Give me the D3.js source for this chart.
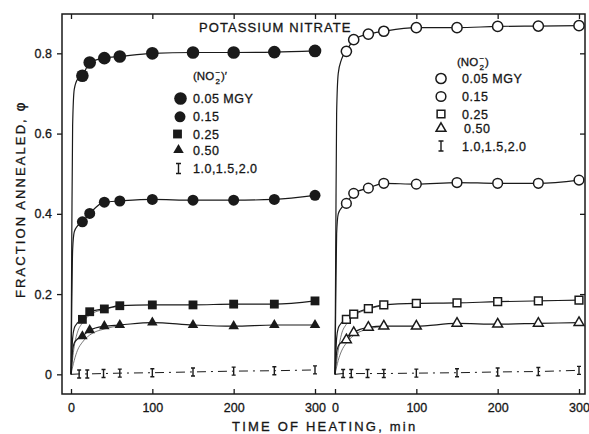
<!DOCTYPE html>
<html>
<head>
<meta charset="utf-8">
<script src="https://cdn.jsdelivr.net/npm/d3@7"></script>
<style>
  body { margin: 0; background: #fff; }
  svg { display: block; }
  text { font-family: "Liberation Sans", Arial, sans-serif; fill: #161616; stroke: #161616; stroke-width: 0.3; }
</style>
</head>
<body>
<svg id="chart" width="589" height="434"></svg>
<script>
// heating times (min) of the plotted points
const times = [14, 23, 41, 60, 100, 150, 200, 250, 300];
const timesI = [10, 20, 40, 60, 100, 150, 200, 250, 300];
// early part of the drawn curves, before the first point
const riseT = [0, 1, 2, 4, 8];
const gradT = [0, 4, 8, 14, 23, 41, 60];

const legendLabels = ["0.05 MGY", "0.15", "0.25", "0.50", "1.0,1.5,2.0"];
const xTicks = [0, 100, 200, 300];
const yTicks = [0, 0.2, 0.4, 0.6, 0.8];

// left panel, filled symbols
const left05 = [0.744, 0.777, 0.788, 0.792, 0.800, 0.802, 0.802, 0.803, 0.806];
const left15 = [0.380, 0.401, 0.429, 0.432, 0.436, 0.434, 0.434, 0.436, 0.446];
const left25 = [0.137, 0.156, 0.163, 0.171, 0.173, 0.173, 0.175, 0.175, 0.183];
const left50 = [0.095, 0.110, 0.120, 0.123, 0.129, 0.123, 0.120, 0.123, 0.123];
const leftI = [0.001, 0.001, 0.002, 0.003, 0.004, 0.006, 0.008, 0.009, 0.011];
const leftRise05 = [0, 0.35, 0.62, 0.71, 0.735];
const leftRise15 = [0, 0.18, 0.31, 0.355, 0.37];
const leftRise25 = [0, 0.05, 0.09, 0.115, 0.128];
const leftRise50 = [0, 0.03, 0.06, 0.078, 0.088];
const leftGrad25 = [0, 0.07, 0.105, 0.128, 0.148, 0.162, 0.170];
const leftGrad50 = [0, 0.035, 0.06, 0.08, 0.098, 0.113, 0.121];

// right panel, open symbols
const right05 = [0.805, 0.834, 0.848, 0.855, 0.864, 0.864, 0.867, 0.868, 0.869];
const right15 = [0.426, 0.451, 0.464, 0.476, 0.474, 0.478, 0.476, 0.476, 0.484];
const right25 = [0.137, 0.150, 0.164, 0.173, 0.177, 0.178, 0.181, 0.183, 0.185];
const right50 = [0.086, 0.104, 0.117, 0.120, 0.120, 0.127, 0.125, 0.127, 0.129];
const rightI = [0.002, 0.002, 0.002, 0.002, 0.003, 0.004, 0.006, 0.007, 0.010];
const rightRise05 = [0, 0.35, 0.65, 0.75, 0.785];
const rightRise15 = [0, 0.2, 0.35, 0.40, 0.415];
const rightRise25 = [0, 0.05, 0.09, 0.115, 0.128];
const rightRise50 = [0, 0.03, 0.055, 0.07, 0.08];
const rightGrad25 = [0, 0.06, 0.10, 0.125, 0.145, 0.162, 0.172];
const rightGrad50 = [0, 0.035, 0.058, 0.078, 0.097, 0.113, 0.119];

const ink = "#1a1a1a";
const svg = d3.select("#chart");

const y = d3.scaleLinear().domain([-0.049, 0.898]).range([394, 14]);
const xLeft = d3.scaleLinear().domain([0, 300]).range([71, 315]);
const xRight = d3.scaleLinear().domain([0, 300]).range([335, 579]);

// marker shapes
const sym = {
  circleL: d3.symbol(d3.symbolCircle, 125)(),
  circleS: d3.symbol(d3.symbolCircle, 95)(),
  square: d3.symbol(d3.symbolSquare, 78)(),
  triangle: d3.symbol(d3.symbolTriangle, 48)(),
  ocircleL: d3.symbol(d3.symbolCircle, 82)(),
  ocircleS: d3.symbol(d3.symbolCircle, 74)(),
  osquare: d3.symbol(d3.symbolSquare, 60)(),
  otriangle: d3.symbol(d3.symbolTriangle, 42)(),
  bar: "M-2,-4H2M0,-4V4M-2,4H2",
  barL: "M-2.5,-5H2.5M0,-5V5M-2.5,5H2.5"
};

function marker(g, type, open) {
  const p = g.append("path").attr("d", sym[type]);
  if (type.startsWith("bar")) {
    p.attr("fill", "none").attr("stroke", ink).attr("stroke-width", 1.4);
  } else if (open) {
    p.attr("fill", "#fff").attr("stroke", ink).attr("stroke-width", 1.5);
  } else {
    p.attr("fill", ink);
  }
  return p;
}

const line = d3.line().x(d => d[0]).y(d => d[1]).curve(d3.curveMonotoneX);

const panels = [
  { x: xLeft, open: false,
    series: [
      { v: left05, rise: leftRise05, m: "circleL" },
      { v: left15, rise: leftRise15, m: "circleS" },
      { v: left25, rise: leftRise25, m: "square" },
      { v: left50, rise: leftRise50, m: "triangle" }
    ],
    grads: [leftGrad25, leftGrad50], vI: leftI },
  { x: xRight, open: true,
    series: [
      { v: right05, rise: rightRise05, m: "ocircleL" },
      { v: right15, rise: rightRise15, m: "ocircleS" },
      { v: right25, rise: rightRise25, m: "osquare" },
      { v: right50, rise: rightRise50, m: "otriangle" }
    ],
    grads: [rightGrad25, rightGrad50], vI: rightI }
];

// frame
svg.append("rect").attr("x", 62).attr("y", 14).attr("width", 523).attr("height", 380)
  .attr("fill", "none").attr("stroke", ink).attr("stroke-width", 1.5);

const fontAxis = "'Liberation Sans', Arial, sans-serif";

panels.forEach(p => {
  const g = svg.append("g");
  // thin gradual curves from origin
  p.grads.forEach(gv => {
    g.append("path")
      .attr("d", line(gradT.map((t, i) => [p.x(t), y(gv[i])])))
      .attr("fill", "none").attr("stroke", "#555").attr("stroke-width", 0.8);
  });
  // fitted curves through the points
  p.series.forEach(s => {
    const pts = riseT.map((t, i) => [p.x(t), y(s.rise[i])])
      .concat(times.map((t, i) => [p.x(t), y(s.v[i])]));
    g.append("path").attr("d", line(pts))
      .attr("fill", "none").attr("stroke", ink).attr("stroke-width", 1.2);
  });
  // 1.0-2.0 MGy points, dash-dot line
  const ptsI = [[p.x(0), y(0)]].concat(timesI.map((t, i) => [p.x(t), y(p.vI[i])]));
  g.append("path").attr("d", d3.line()(ptsI))
    .attr("fill", "none").attr("stroke", ink).attr("stroke-width", 1)
    .attr("stroke-dasharray", "9,5,2,5");
  // markers
  p.series.forEach(s => {
    times.forEach((t, i) => {
      marker(g, s.m, p.open).attr("transform", `translate(${p.x(t)},${y(s.v[i])})`);
    });
  });
  timesI.forEach((t, i) => {
    marker(g, "bar", p.open).attr("transform", `translate(${p.x(t)},${y(p.vI[i])})`);
  });

  // axes
  const bottom = svg.append("g").attr("transform", "translate(0,394)")
    .call(d3.axisBottom(p.x).tickValues(xTicks).tickSize(-5).tickPadding(9));
  const top = svg.append("g").attr("transform", "translate(0,14)")
    .call(d3.axisTop(p.x).tickValues(xTicks).tickSize(-5).tickFormat(""));
  [bottom, top].forEach(a => {
    a.select(".domain").remove();
    a.selectAll("line").attr("stroke", ink).attr("stroke-width", 1.3);
    a.selectAll("text").attr("font-size", 12.5).attr("fill", ink)
      .style("font-family", fontAxis);
  });
});

const leftAx = svg.append("g").attr("transform", "translate(62,0)")
  .call(d3.axisLeft(y).tickValues(yTicks).tickSize(5).tickPadding(5)
    .tickFormat(d => d === 0 ? "0" : d3.format(".1f")(d)));
const rightAx = svg.append("g").attr("transform", "translate(585,0)")
  .call(d3.axisRight(y).tickValues(yTicks.slice(1)).tickSize(-5).tickFormat(""));
[leftAx, rightAx].forEach(a => {
  a.select(".domain").remove();
  a.selectAll("line").attr("stroke", ink).attr("stroke-width", 1.3);
  a.selectAll("text").attr("font-size", 12.5).attr("fill", ink)
    .style("font-family", fontAxis);
});

// title and axis labels
svg.append("text").attr("x", 199).attr("y", 32).attr("font-size", 13)
  .attr("letter-spacing", 1.1).text("POTASSIUM NITRATE");
svg.append("text").attr("x", 232).attr("y", 431).attr("font-size", 13)
  .attr("letter-spacing", 2.2).text("TIME OF HEATING, min");
const yl = svg.append("text").attr("transform", "translate(25,298) rotate(-90)")
  .attr("font-size", 13).attr("letter-spacing", 2.1);
yl.append("tspan").text("FRACTION ANNEALED, ");
yl.append("tspan").style("font-family", "'DejaVu Sans', sans-serif").attr("font-size", 14).text("φ");

// legends
function header(x, yb, prime) {
  svg.append("text").attr("x", x).attr("y", yb).attr("font-size", 11.5).text("(NO");
  const nx = x + 22.5;
  svg.append("text").attr("x", nx).attr("y", yb + 3.5).attr("font-size", 8).text("2");
  svg.append("text").attr("x", nx).attr("y", yb - 5.5).attr("font-size", 8).text("−");
  svg.append("text").attr("x", nx + 5.5).attr("y", yb).attr("font-size", 11.5)
    .text(prime ? ")′" : ")");
}
function legend(x0, y0, rows, types, open, prime, headX, textX) {
  header(headX, y0, prime);
  rows.forEach((ry, i) => {
    marker(svg.append("g"), types[i], open).attr("transform", `translate(${x0[i]},${ry})`);
    svg.append("text").attr("x", textX + (i === 3 && open ? 2 : 0)).attr("y", ry + 4.5)
      .attr("font-size", 12.5).attr("letter-spacing", 0.5).text(legendLabels[i]);
  });
}
legend([180.5, 180, 177.5, 178.5, 178.5], 80, [98.5, 116.8, 134, 150, 168.5],
  ["circleL", "circleS", "square", "triangle", "barL"], false, true, 193, 193);
legend([441, 441, 441, 441, 441], 66, [78.5, 96.5, 114, 128.5, 146],
  ["ocircleL", "ocircleS", "osquare", "otriangle", "barL"], true, false, 457, 462);
</script>
</body>
</html>
